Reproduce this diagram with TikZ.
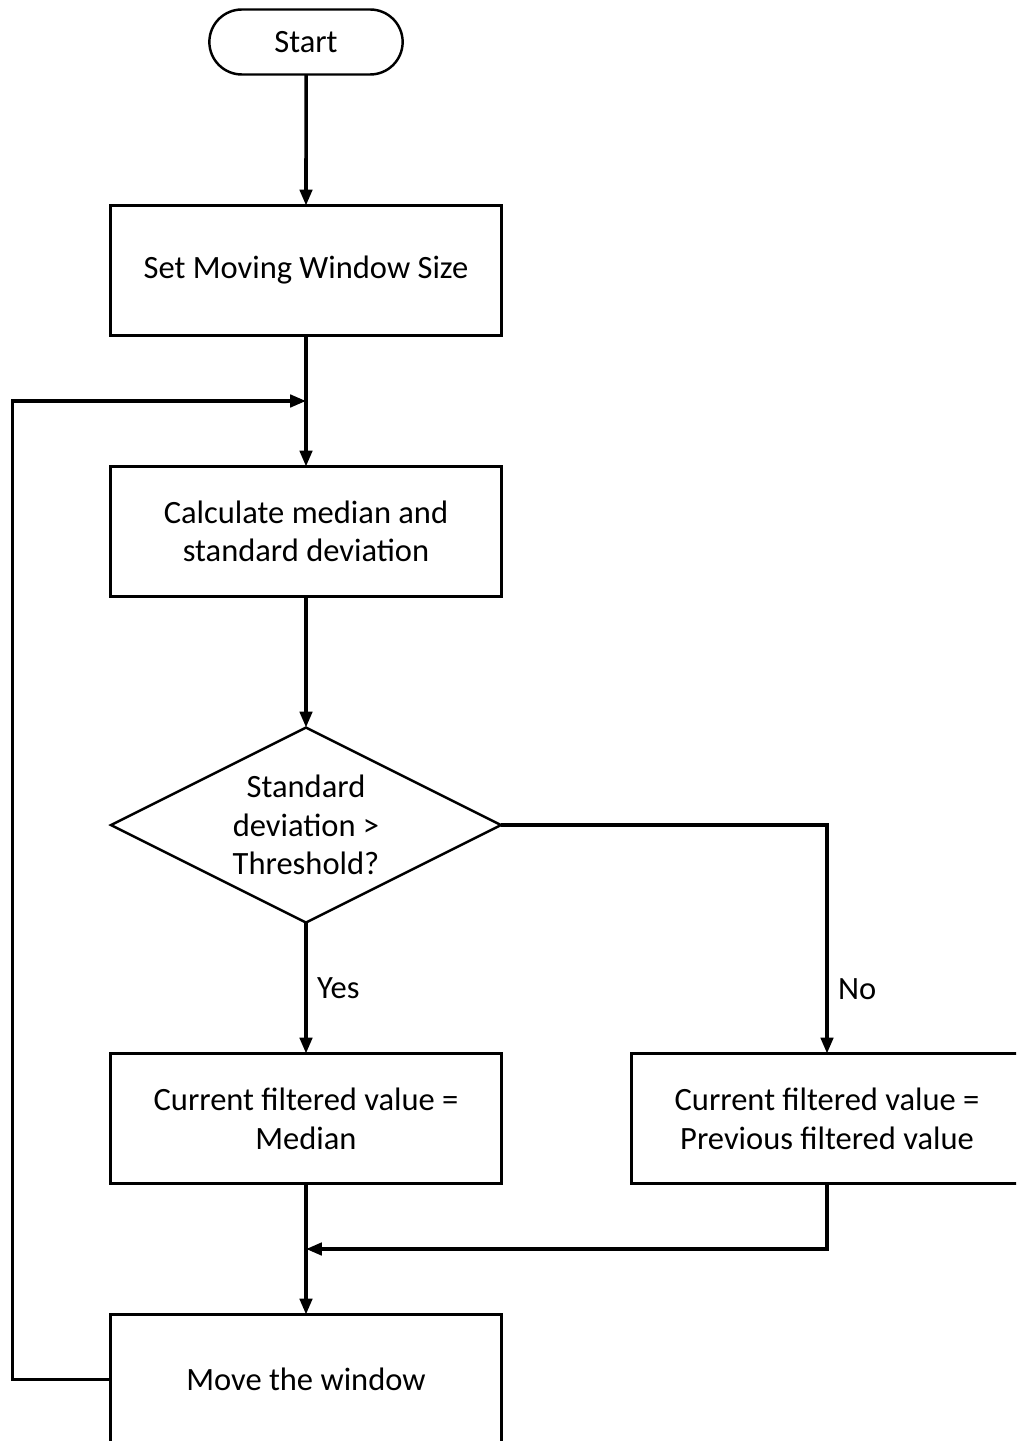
\documentclass[tikz,border=0pt]{standalone}
\usepackage{fontspec}
\setmainfont{Carlito}
\usetikzlibrary{arrows.meta, positioning, calc, shapes.geometric, shapes.misc}
\tikzset{>={Triangle[length=9pt,width=7pt]}}

\begin{document}
\begin{tikzpicture}[node distance=2.62cm, every node/.style={font=\fontsize{18.5}{22}\selectfont},
    box/.style={draw, line width=1.4pt, outer sep=0pt, minimum width=7.82cm, minimum height=2.6cm, align=center},
    term/.style={draw, line width=1.4pt, outer sep=0pt, rounded rectangle, minimum width=4.1cm, minimum height=1.3cm},
    decision/.style={draw, line width=1.4pt, outer sep=0pt, diamond, aspect=2, inner sep=0pt, minimum width=7.8cm, minimum height=3.9cm, align=center},
    flow/.style={->, line width=2pt}]
        \useasboundingbox (0,0) rectangle (20.32,-28.82);
        \clip (0,0) rectangle (20.32,-28.82);

        \node[term] (start) at (6.12,-0.84) {Start};
        \node[box, below=of start] (setwin) {Set Moving Window Size};
        \node[box, below=of setwin] (calc) {Calculate median and\\standard deviation};
        \node[decision, below=of calc] (test) {Standard\\deviation >\\Threshold?};
        \node[box, below=of test] (median) {Current filtered value =\\Median};
        \node[box, right=2.6cm of median] (prev) {Current filtered value =\\Previous filtered value};
        \node[box, below=of median] (move) {Move the window};

        \coordinate (back) at ($(setwin.south)!0.5!(calc.north)$);
        \coordinate (join) at ($(median.south)!0.5!(move.north)$);

        \draw[flow] (start) -- (setwin);
        \draw[flow] (setwin) -- (calc);
        \draw[flow] (calc) -- (test);
        \draw[flow] (test) -- node[right, xshift=2pt]{Yes} (median);
        \draw[flow] (test.east) -| node[pos=0.86, right, xshift=2pt]{No} (prev.north);
        \draw[flow] (median) -- (move);
        \draw[flow] (prev.south) |- (join);
        \draw[flow] (move.west) -- ++(-1.96,0) |- (back);
      \end{tikzpicture}
\end{document}
